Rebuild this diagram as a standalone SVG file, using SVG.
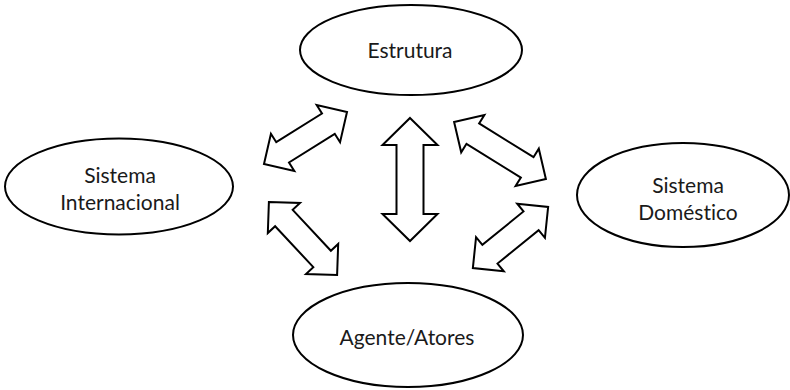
<svg xmlns="http://www.w3.org/2000/svg" width="790" height="390" viewBox="0 0 790 390">
<style>
.node ellipse{fill:#fff;stroke:#000;stroke-width:2}
.node text{font-family:Lato,"Open Sans",sans-serif;font-size:21px;fill:#1a1a1a;text-anchor:middle;font-variant-ligatures:none;font-feature-settings:"liga" 0}
.arrow{fill:#fff;stroke:#000;stroke-width:2;stroke-linejoin:miter}
</style>
<rect width="790" height="390" fill="#fff"/>
<g id="connectors">
<path class="arrow" d="M410,118 L437.5,145 L423.5,145 L423.5,214 L437.5,214 L410,241 L382.5,214 L396.5,214 L396.5,145 L382.5,145 Z"/>
<path class="arrow" transform="translate(305.5,138) rotate(-32.1)" d="M-49,0 L-27,-22 L-27,-12 L27,-12 L27,-22 L49,0 L27,22 L27,12 L-27,12 L-27,22 Z"/>
<path class="arrow" transform="translate(500,150.5) rotate(31.8)" d="M-54,0 L-32,-22 L-32,-12 L32,-12 L32,-22 L54,0 L32,22 L32,12 L-32,12 L-32,22 Z"/>
<path class="arrow" transform="translate(303,238.5) rotate(47)" d="M-50,0 L-28,-22 L-28,-12 L28,-12 L28,-22 L50,0 L28,22 L28,12 L-28,12 L-28,22 Z"/>
<path class="arrow" transform="translate(510.5,237.5) rotate(-39.1)" d="M-48.5,0 L-26.5,-22 L-26.5,-12 L26.5,-12 L26.5,-22 L48.5,0 L26.5,22 L26.5,12 L-26.5,12 L-26.5,22 Z"/>
</g>
<g id="estrutura" class="node">
<ellipse cx="411" cy="50" rx="111" ry="45"/>
<text x="410" y="58">Estrutura</text>
</g>
<g id="sistema-internacional" class="node">
<ellipse cx="119" cy="186.5" rx="114" ry="48"/>
<text x="120" y="183">Sistema</text>
<text x="120" y="210">Internacional</text>
</g>
<g id="sistema-domestico" class="node">
<ellipse cx="683" cy="195" rx="106" ry="52"/>
<text x="688" y="193">Sistema</text>
<text x="688" y="220">Doméstico</text>
</g>
<g id="agente-atores" class="node">
<ellipse cx="408" cy="335" rx="115" ry="52"/>
<text x="407" y="345">Agente/Atores</text>
</g>
</svg>
